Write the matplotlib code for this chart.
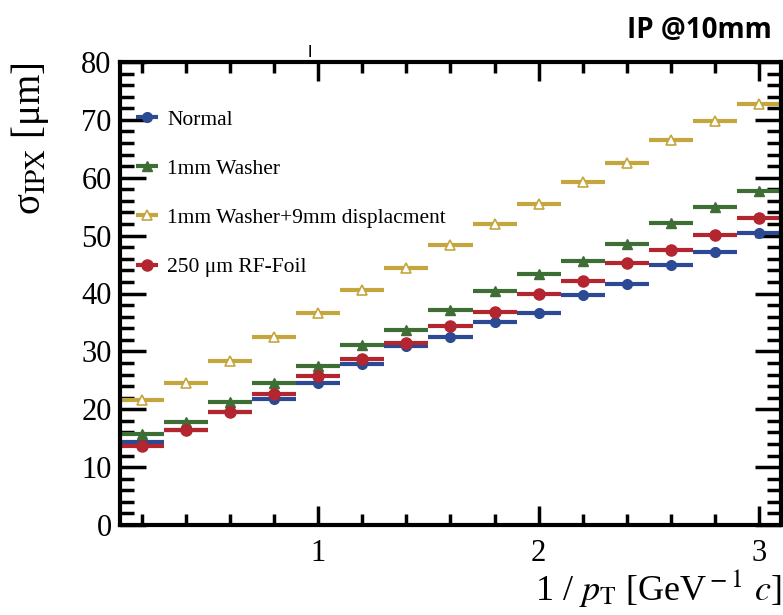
import numpy as np
import matplotlib
matplotlib.use("Agg")
import matplotlib.pyplot as plt
from matplotlib.ticker import MultipleLocator

plt.rcParams['font.family'] = ['Liberation Serif', 'DejaVu Serif']
plt.rcParams['mathtext.fontset'] = 'stix'

# bin centres in 1/pT, each bin is 0.2 wide
inv_pt = [0.2, 0.4, 0.6, 0.8, 1.0, 1.2, 1.4, 1.6, 1.8, 2.0, 2.2, 2.4, 2.6, 2.8, 3.0]
bin_half = 0.1

# impact parameter resolution in um
normal = [14.4, 16.4, 19.6, 21.7, 24.5, 27.8, 30.9, 32.4, 35.1, 36.7, 39.7, 41.7, 45.0, 47.2, 50.5]
washer = [15.8, 17.8, 21.2, 24.5, 27.5, 31.1, 33.7, 37.2, 40.4, 43.4, 45.7, 48.5, 52.1, 54.9, 57.7]
washer_disp = [21.6, 24.5, 28.4, 32.5, 36.7, 40.6, 44.4, 48.3, 52.0, 55.4, 59.2, 62.6, 66.6, 69.8, 72.7]
rf_foil = [13.6, 16.4, 19.6, 22.7, 25.8, 28.7, 31.4, 34.3, 36.8, 39.9, 42.2, 45.2, 47.5, 50.1, 53.1]

c_blue = '#2c4a93'
c_green = '#3e6e35'
c_gold = '#c4a53e'
c_red = '#b3252f'

fig = plt.figure(figsize=(7.83, 6.15), dpi=100)
ax = fig.add_axes([120 / 783, 1 - 525 / 615, 661 / 783, 463 / 615])

kw = dict(linestyle='none', elinewidth=3, capsize=0)
ax.errorbar(inv_pt, normal, xerr=bin_half, fmt='o', color=c_blue, ms=7,
            label='Normal', **kw)
ax.errorbar(inv_pt, washer, xerr=bin_half, fmt='^', color=c_green, ms=7,
            label='1mm Washer', **kw)
ax.errorbar(inv_pt, washer_disp, xerr=bin_half, fmt='^', color=c_gold, ms=7,
            mfc='white', mec=c_gold, mew=1.2,
            label='1mm Washer+9mm displacment', **kw)
ax.errorbar(inv_pt, rf_foil, xerr=bin_half, fmt='o', color=c_red, ms=8,
            label='250 μm RF-Foil', **kw)

ax.set_xlim(0.1, 3.1)
ax.set_ylim(0, 80)
ax.xaxis.set_major_locator(MultipleLocator(1))
ax.xaxis.set_minor_locator(MultipleLocator(0.2))
ax.yaxis.set_major_locator(MultipleLocator(10))
ax.yaxis.set_minor_locator(MultipleLocator(2))

ax.tick_params(which='both', direction='in', top=True, right=True, width=2.5,
               labelsize=22)
ax.tick_params(axis='x', which='major', length=14, pad=10)
ax.tick_params(axis='x', which='minor', length=8)
ax.tick_params(axis='y', which='major', length=19, pad=6)
ax.tick_params(axis='y', which='minor', length=10)
for s in ax.spines.values():
    s.set_linewidth(3)

ax.set_ylabel(r'σ$_{\rm IPX}$ [μm]', fontsize=28, ha='right')
ax.yaxis.set_label_coords(-0.105, 1.0)
ax.set_xlabel(r'1 / $p_{\rm T}$ [GeV$^{\rm -1}$ $c$]', fontsize=26, ha='right')
ax.xaxis.set_label_coords(1.0, -0.09)

leg = ax.legend(loc='upper left', bbox_to_anchor=(0.0, 0.925), frameon=False,
                fontsize=15.5, handlelength=1.3, handletextpad=0.3,
                labelspacing=1.35, borderaxespad=0.2)

fig.text(772 / 783, 1 - 30 / 615, 'IP @10mm', ha='right', va='center',
         fontsize=20, fontweight='bold', family='Open Sans')
fig.text(310 / 783, 1 - 51 / 615, '|', ha='center', va='center',
         fontsize=9, fontweight='heavy', family='Open Sans')

fig.savefig('out.png', dpi=100)
